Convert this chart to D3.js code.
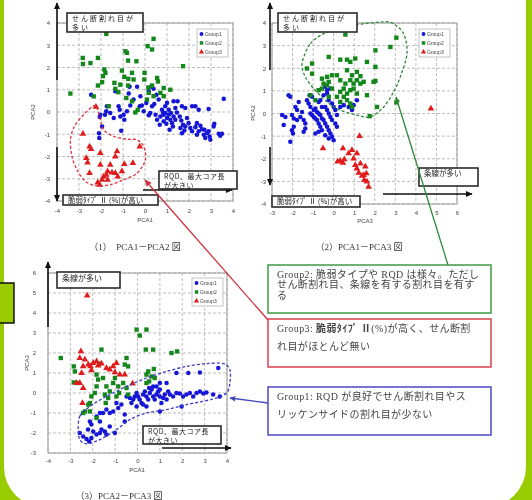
<!DOCTYPE html>
<html>
<head>
<meta charset="utf-8">
<script src="https://cdn.jsdelivr.net/npm/d3@7"></script>
<style>
	body { margin: 0; background: #99cc00; }
	svg { display: block; filter: blur(0.35px); }
</style>
</head>
<body>
<svg id="chart" width="532" height="500"></svg>
<script>
var groupNames = ["Group1", "Group2", "Group3"];
var groupColors = ["#1515d6", "#13871a", "#e01b1b"];
var captions = ["（1）　PCA1－PCA2 図", "（2）PCA1－PCA3 図", "（3）PCA2－PCA3 図"];
var ticksA = [-4, -3, -2, -1, 0, 1, 2, 3, 4];
var ticksB = [-3, -2, -1, 0, 1, 2, 3, 4, 5, 6];

// (1) PCA1 - PCA2
var p1Group1 = [[-2.45,0.78],[-2.03,-0.12],[-2.06,-0.23],[-1.95,-0.65],[-2.09,-0.95],[-2.08,-1.17],[-1.76,0.03],[-1.73,0.26],[-1.82,-0.12],[-1.58,-0.05],[-1.42,-0.27],[-1.35,0.93],[-1.2,0.26],[-1.15,0.1],[-1.12,-0.2],[-0.97,-0.12],[-0.94,-0.35],[-1.08,-0.84],[-0.82,0.03],[-0.7,1.13],[-0.74,0.83],[-0.52,0.56],[-0.67,0.29],[-0.36,1.13],[-0.24,0.26],[-0.14,0.29],[0.06,0.41],[-0.06,0.03],[0.17,-0.15],[0.24,-0.05],[0.32,0.26],[0.42,0.36],[0.27,1.13],[0.39,1.04],[0.17,0.93],[0.52,0.78],[0.62,0.56],[0.48,-0.12],[0.55,-0.35],[0.67,-0.57],[0.77,0.1],[0.85,-0.12],[0.92,-0.05],[1.0,-0.27],[1.08,-0.12],[1.15,-0.35],[1.23,-0.5],[0.85,-0.42],[0.97,-0.53],[1.08,0.1],[1.18,-0.05],[1.3,-0.2],[0.7,-0.2],[0.82,-0.02],[0.92,0.26],[1.0,0.41],[1.38,0.18],[1.45,-0.02],[1.58,-0.2],[1.65,-0.38],[1.73,-0.57],[1.61,-0.72],[1.79,-0.83],[1.83,-0.65],[1.98,-0.5],[1.91,-0.27],[2.06,-0.72],[2.14,-0.87],[2.29,-0.68],[2.36,-0.5],[2.52,-0.62],[2.59,-0.77],[2.7,-0.8],[2.82,-0.95],[2.67,-1.02],[2.89,-0.87],[2.74,-1.17],[2.94,-1.1],[2.97,-1.25],[1.68,0.26],[1.83,0.18],[2.14,0.26],[2.29,0.26],[2.44,0.1],[2.89,0.14],[3.12,-0.65],[3.35,-0.98],[3.42,-1.07],[3.5,-0.98],[3.15,-0.53],[3.58,0.59],[2.44,-0.87],[2.36,-1.02],[1.48,0.48],[1.3,0.48],[1.27,-0.65],[1.12,-0.8],[1.68,-0.95],[1.38,-0.35],[-0.21,0.71]];
var p1Group2 = [[-3.39,0.83],[-2.83,2.43],[-2.82,2.16],[-2.48,2.2],[-2.14,2.43],[-2.14,1.19],[-2.33,0.7],[-1.76,3.51],[-1.85,1.91],[-1.8,1.76],[-1.91,1.61],[-1.95,1.34],[-1.35,1.04],[-1.39,1.31],[-0.89,2.73],[-0.77,2.31],[-1.05,1.86],[-0.94,1.58],[-0.59,1.76],[-0.52,1.46],[-0.76,1.49],[-0.77,1.19],[-1.12,1.23],[-1.21,0.89],[-0.39,2.28],[-0.82,2.66],[-0.85,0.63],[-0.44,-0.02],[0.12,2.96],[0.32,2.81],[0.39,3.29],[-0.02,1.76],[-0.03,1.46],[0.15,1.1],[0.32,1.19],[0.55,1.53],[0.59,1.37],[0.85,1.08],[0.7,0.86],[0.85,0.71],[1.15,1.0],[1.73,2.06],[0.17,0.86],[0.09,0.56],[-1.65,0.26],[-0.59,0.48],[-0.33,0.1],[0.39,0.71]];
var p1Group3 = [[-2.23,0.23],[-2.82,-0.98],[-2.52,-1.55],[-2.45,-1.67],[-2.67,-2.07],[-2.61,-2.27],[-2.03,-1.85],[-2.52,-2.75],[-2.03,-2.37],[-2.15,-3.17],[-2.06,-3.27],[-1.95,-3.05],[-1.76,-2.82],[-1.7,-2.67],[-1.58,-2.37],[-1.35,-2.0],[-1.27,-1.77],[-1.5,-2.72],[-1.35,-2.75],[-1.05,-2.67],[-0.94,-2.34],[-1.24,-2.9],[-1.7,-3.05],[-0.55,-2.3],[-0.24,-1.55],[-1.88,-2.9]];
var p1Outline = [[-2.26,0.29],[-2.79,-0.12],[-3.21,-0.65],[-3.39,-1.25],[-3.32,-2.0],[-3.09,-2.6],[-2.71,-3.12],[-2.18,-3.32],[-1.58,-3.27],[-0.97,-3.05],[-0.36,-2.75],[0.02,-2.15],[-0.06,-1.55],[-0.36,-1.25],[-0.82,-1.22],[-1.42,-1.1],[-1.88,-0.8],[-2.03,-0.35]];

// (2) PCA1 - PCA3
var p2Group1 = [[-2.19,0.81],[-2.11,0.74],[-2.51,-0.07],[-2.35,-0.15],[-2.43,-0.51],[-2.03,-0.07],[-1.94,-0.22],[-1.78,-0.29],[-1.62,-0.15],[-1.94,-0.59],[-2.03,-0.74],[-1.98,-0.88],[-2.11,-1.25],[-1.86,0.29],[-1.78,0.15],[-1.54,0.07],[-1.7,0.51],[-1.46,-0.29],[-1.38,-0.44],[-1.3,0.59],[-1.22,0.44],[-1.13,0.29],[-1.17,0.81],[-1.05,0.74],[-1.13,0.0],[-1.05,-0.07],[-0.97,-0.15],[-0.89,-0.22],[-0.81,-0.29],[-0.73,-0.44],[-0.65,-0.59],[-0.97,0.15],[-0.89,0.22],[-0.81,0.07],[-0.73,0.0],[-0.65,-0.07],[-0.57,-0.22],[-0.49,-0.29],[-0.41,-0.44],[-0.32,-0.59],[-0.24,-0.74],[-0.16,-0.88],[-0.08,-1.03],[0.0,-1.18],[-0.73,0.51],[-0.65,0.59],[-0.57,0.29],[-0.41,0.29],[-0.32,0.15],[-0.24,0.0],[-0.16,-0.15],[-0.08,-0.29],[0.08,-0.44],[0.16,-0.59],[-0.49,0.81],[-0.32,0.88],[-0.24,0.59],[-0.08,0.44],[0.0,0.29],[0.08,0.15],[0.16,-0.07],[-0.41,1.18],[-0.32,1.03],[-0.16,1.1],[-0.89,-0.88],[-0.73,-0.81],[-0.57,-0.74],[-0.41,-0.96],[-0.24,-1.1],[0.32,0.29],[0.49,0.37],[0.73,0.29],[0.89,0.15],[0.97,0.37],[1.13,0.59],[-1.46,-0.81],[-1.38,-0.66]];
var p2Group2 = [[0.57,3.49],[3.05,3.35],[2.76,2.94],[2.03,2.79],[2.03,2.06],[2.03,1.44],[1.94,1.4],[1.62,2.28],[0.81,2.28],[1.05,2.43],[0.65,2.38],[0.32,2.38],[-0.24,2.5],[-1.05,2.21],[-1.3,1.99],[-1.05,1.76],[0.65,1.91],[0.89,1.69],[1.13,1.84],[1.3,1.65],[-0.57,1.54],[-0.32,1.62],[-0.08,1.69],[0.16,1.69],[0.32,1.47],[-0.24,1.4],[-0.49,1.32],[0.57,1.32],[0.81,1.47],[0.97,1.32],[1.13,1.47],[1.3,1.32],[1.46,1.4],[0.81,1.03],[0.97,1.1],[1.13,0.88],[0.65,0.88],[0.49,0.74],[0.32,0.96],[0.49,1.1],[0.65,0.59],[0.81,0.44],[-0.73,1.03],[-0.57,1.1],[-0.32,1.25],[-0.08,1.1],[0.16,0.74],[-0.24,0.74],[-0.89,0.59],[-1.13,0.81],[0.32,0.51],[0.89,0.29],[1.62,0.81],[2.11,0.29],[1.75,-0.12],[3.05,0.49]];
var p2Group3 = [[1.26,-1.0],[-0.52,-1.54],[0.45,-1.54],[0.32,-2.09],[0.45,-2.18],[0.52,-2.03],[0.89,-1.62],[1.13,-1.76],[0.97,-1.99],[1.05,-2.28],[1.13,-2.43],[1.22,-2.62],[1.3,-2.21],[1.54,-2.35],[1.59,-2.65],[1.38,-2.76],[1.49,-2.94],[1.62,-3.01],[1.7,-3.24],[1.46,-2.72],[0.73,-1.76],[0.19,-2.13],[4.73,0.22]];
var p2Outline = [[-1.54,2.21],[-1.13,3.09],[-0.32,3.6],[0.97,3.9],[2.27,4.04],[2.84,4.0],[3.4,3.53],[3.57,2.65],[3.24,1.62],[2.92,0.96],[2.43,0.29],[1.78,-0.15],[1.13,-0.07],[0.32,0.15],[-0.32,0.51],[-0.97,1.1],[-1.38,1.62]];

// (3) PCA2 - PCA3
var p3Group1 = [[-2.58,-2.0],[-2.43,-2.17],[-2.28,-2.3],[-2.16,-2.42],[-2.06,-2.25],[-2.21,-1.83],[-1.98,-1.92],[-2.06,-1.58],[-1.83,-2.08],[-1.68,-2.0],[-1.61,-1.83],[-1.46,-1.92],[-1.39,-2.08],[-1.24,-1.67],[-1.01,-2.0],[-1.68,-1.42],[-2.13,-1.42],[-1.83,-1.17],[-1.54,-1.0],[-1.68,-1.0],[-1.39,-0.83],[-1.24,-1.0],[-1.09,-0.92],[-0.86,-0.75],[-0.94,-0.5],[-0.72,-0.58],[-0.57,-1.42],[-0.57,-1.08],[-0.49,-0.17],[-0.34,-0.25],[-0.27,-0.5],[-0.19,-0.33],[-0.12,-0.17],[-0.04,0.0],[0.03,-0.17],[0.1,-0.33],[0.18,-0.5],[0.25,-0.08],[0.33,0.08],[0.4,-0.17],[0.48,-0.33],[0.55,0.0],[0.63,0.17],[0.7,-0.17],[0.77,-0.33],[0.85,-0.08],[0.92,0.08],[1.0,-0.17],[1.07,-0.5],[1.15,-0.25],[1.22,-0.08],[1.3,-0.33],[0.85,0.33],[1.0,0.17],[1.37,0.08],[1.45,-0.08],[1.59,-0.17],[1.74,0.0],[1.89,-0.03],[2.04,-0.17],[2.19,-0.08],[2.34,0.0],[2.49,-0.17],[2.64,0.0],[2.79,0.08],[2.94,-0.03],[3.08,0.03],[3.38,-0.08],[3.68,-0.17],[1.0,-0.92],[1.97,-0.67],[1.74,1.0],[2.27,1.0],[2.79,1.03],[3.61,1.25],[1.3,0.5],[1.0,0.5],[0.7,0.33],[0.52,0.25],[-0.04,-0.67],[0.25,-0.58],[0.4,-0.67]];
var p3Group2 = [[-3.43,1.75],[-2.85,1.33],[-2.8,1.08],[-2.85,0.53],[-2.65,0.5],[-2.43,-1.0],[-2.35,-0.92],[-1.83,0.33],[-1.91,0.0],[-2.06,-0.17],[-2.13,-0.5],[-2.2,-0.58],[-1.71,1.47],[-1.61,2.17],[-1.83,0.92],[-1.76,0.67],[-1.54,0.75],[-1.39,0.33],[-1.24,0.08],[-1.46,-0.08],[-1.31,-0.25],[-1.42,-0.5],[-1.09,0.5],[-1.01,0.75],[-0.86,0.33],[-0.82,0.0],[-0.94,-0.17],[-0.49,1.75],[-0.57,1.42],[-0.42,1.33],[-0.64,0.5],[-0.49,0.25],[-0.42,-0.08],[-0.04,3.17],[0.1,2.87],[0.4,3.17],[0.37,2.17],[0.7,2.17],[1.52,2.0],[1.77,2.08],[0.48,1.08],[0.4,0.92],[0.63,0.83],[0.73,1.2],[0.77,0.75],[0.4,0.5],[0.52,0.58],[-1.83,-1.25],[-2.13,-0.92]];
var p3Group3 = [[-2.25,4.87],[-2.53,2.08],[-2.58,1.75],[-2.35,1.67],[-2.2,1.42],[-2.1,1.33],[-1.98,1.5],[-1.83,1.58],[-2.06,1.13],[-1.61,1.47],[-1.39,1.25],[-1.24,1.17],[-1.09,1.33],[-0.94,1.5],[-1.01,1.03],[-0.79,0.92],[-0.57,0.92],[-0.22,0.47],[-2.43,1.33],[-2.5,1.0],[-2.73,0.5],[-2.58,0.5],[-2.43,0.25],[-2.46,-0.5],[-1.76,1.37]];
var p3Outline = [[-2.65,-1.83],[-2.58,-1.17],[-2.13,-0.67],[-1.39,-0.17],[-0.49,0.33],[0.4,0.75],[1.3,1.08],[2.19,1.33],[3.08,1.47],[3.83,1.47],[4.13,1.17],[4.13,0.5],[3.98,0.0],[3.38,-0.3],[2.19,-0.58],[1.3,-0.83],[0.4,-1.0],[-0.34,-1.33],[-0.94,-1.83],[-1.68,-2.33],[-2.28,-2.53],[-2.58,-2.33]];

var svg = d3.select("#chart");
var symbols = [d3.symbolCircle, d3.symbolSquare, d3.symbolTriangle];
var symbolSizes = [16, 19, 19];
var jpFont = "'Noto Sans CJK JP', sans-serif";
var serifFont = "'Liberation Serif', 'Noto Sans CJK JP', serif";

// green page frame
svg.append("rect").attr("width", 532).attr("height", 500).attr("fill", "#99cc00");
svg.append("rect").attr("x", 4).attr("y", -60).attr("width", 522).attr("height", 567)
		.attr("rx", 40).attr("fill", "#fff");

var defs = svg.append("defs");
function addMarker(id, color, size) {
	defs.append("marker")
			.attr("id", id)
			.attr("viewBox", "0 -5 10 10")
			.attr("refX", 9).attr("refY", 0)
			.attr("markerWidth", size).attr("markerHeight", size)
			.attr("markerUnits", "userSpaceOnUse")
			.attr("orient", "auto-start-reverse")
		.append("path")
			.attr("d", "M0,-4.5L10,0L0,4.5Z")
			.attr("fill", color);
}
addMarker("arrowBlack", "#111", 7);
addMarker("arrowRed", "#d0303e", 7);
addMarker("arrowGreen", "#2e8a36", 6);
addMarker("arrowBlue", "#4646bc", 6);

// title, mostly cut off by the top edge
svg.append("text")
		.attr("x", 258).attr("y", -3.5)
		.attr("text-anchor", "middle")
		.attr("font-family", jpFont).attr("font-size", 22)
		.attr("fill", "#111")
		.text("多変量解析を用いた割れ目の分類結果");

function labelBox(g, b) {
	g.append("rect")
			.attr("x", b.x).attr("y", b.y).attr("width", b.w).attr("height", b.h)
			.attr("fill", "#fff").attr("stroke", "#2a2a2a").attr("stroke-width", 1.6);
	var t = g.append("text")
			.attr("y", b.y + b.size + 0.8)
			.attr("font-family", jpFont).attr("font-size", b.size)
			.attr("letter-spacing", b.ls || 0)
			.attr("fill", "#222");
	b.lines.forEach(function(s, i) {
		t.append("tspan")
				.attr("x", b.x + 5)
				.attr("dy", i ? b.size + 2 : 0)
				.text(s);
	});
}

function drawPanel(p) {
	var g = svg.append("g").attr("class", "panel");
	var x = d3.scaleLinear().domain(p.xDomain).range([p.box[0], p.box[1]]);
	var y = d3.scaleLinear().domain(p.yDomain).range([p.box[3], p.box[2]]);

	// dashed grid
	g.append("g").selectAll("line").data(p.xTicks).enter().append("line")
			.attr("x1", x).attr("x2", x)
			.attr("y1", p.box[2]).attr("y2", p.box[3])
			.attr("stroke", "#a0a0a0").attr("stroke-width", 0.7).attr("stroke-dasharray", "3,2");
	g.append("g").selectAll("line").data(p.yTicks).enter().append("line")
			.attr("y1", y).attr("y2", y)
			.attr("x1", p.box[0]).attr("x2", p.box[1])
			.attr("stroke", "#a0a0a0").attr("stroke-width", 0.7).attr("stroke-dasharray", "3,2");
	g.append("rect")
			.attr("x", p.box[0]).attr("y", p.box[2])
			.attr("width", p.box[1] - p.box[0]).attr("height", p.box[3] - p.box[2])
			.attr("fill", "none").attr("stroke", "#9a9a9a").attr("stroke-width", 1);

	// axes
	var xAxis = g.append("g")
			.attr("transform", "translate(0," + p.box[3] + ")")
			.call(d3.axisBottom(x).tickValues(p.xTicks).tickSize(0).tickPadding(p.xPad).tickFormat(String));
	var yAxis = g.append("g")
			.attr("transform", "translate(" + p.box[0] + ",0)")
			.call(d3.axisLeft(y).tickValues(p.yTicks).tickSize(0).tickPadding(p.yPad).tickFormat(String));
	[xAxis, yAxis].forEach(function(a) {
		a.select(".domain").remove();
		a.attr("font-family", "'Liberation Sans', sans-serif").attr("font-size", 6);
		a.selectAll("text").attr("fill", "#444");
	});

	g.append("text")
			.attr("x", p.xTitle[0]).attr("y", p.xTitle[1])
			.attr("text-anchor", "middle")
			.attr("font-family", "'Liberation Sans', sans-serif").attr("font-size", 6).attr("fill", "#444")
			.text(p.xLabel);
	g.append("text")
			.attr("transform", "translate(" + p.yTitle[0] + "," + p.yTitle[1] + ") rotate(-90)")
			.attr("text-anchor", "middle")
			.attr("font-family", "'Liberation Sans', sans-serif").attr("font-size", 6).attr("fill", "#444")
			.text(p.yLabel);

	// points
	p.groups.forEach(function(pts, i) {
		g.append("g").selectAll("path").data(pts).enter().append("path")
				.attr("transform", function(d) { return "translate(" + x(d[0]) + "," + y(d[1]) + ")"; })
				.attr("d", d3.symbol().type(symbols[i]).size(symbolSizes[i]))
				.attr("fill", groupColors[i]);
	});

	// dashed group outline
	var line = d3.line()
			.x(function(d) { return x(d[0]); })
			.y(function(d) { return y(d[1]); })
			.curve(d3.curveCardinalClosed.tension(0.1));
	g.append("path")
			.attr("d", line(p.outline))
			.attr("fill", "none").attr("stroke", p.outlineColor)
			.attr("stroke-width", 1.3).attr("stroke-dasharray", "3,2");

	// legend
	var lg = g.append("g").attr("transform", "translate(" + p.legend[0] + "," + p.legend[1] + ")");
	lg.append("rect")
			.attr("width", 31).attr("height", 28)
			.attr("fill", "#fff").attr("stroke", "#b5b5b5").attr("stroke-width", 0.8);
	groupNames.forEach(function(name, i) {
		lg.append("path")
				.attr("transform", "translate(4.5," + (5 + i * 9) + ")")
				.attr("d", d3.symbol().type(symbols[i]).size(12))
				.attr("fill", groupColors[i]);
		lg.append("text")
				.attr("x", 8).attr("y", 5 + i * 9).attr("dy", "0.35em")
				.attr("font-family", "'Liberation Sans', sans-serif").attr("font-size", 5).attr("fill", "#444")
				.text(name);
	});

	// direction arrows and their labels
	p.arrows.forEach(function(a) {
		g.append("line")
				.attr("x1", a[0]).attr("y1", a[1]).attr("x2", a[2]).attr("y2", a[3])
				.attr("stroke", "#111").attr("stroke-width", 1.6)
				.attr("marker-end", "url(#arrowBlack)");
	});
	p.boxes.forEach(function(b) { labelBox(g, b); });

	g.append("text")
			.attr("x", p.caption[0]).attr("y", p.caption[1])
			.attr("text-anchor", "middle")
			.attr("font-family", serifFont).attr("font-size", 9).attr("fill", "#333")
			.text(p.captionText);
}

drawPanel({
	xDomain: [-4, 4], yDomain: [-4, 4], xTicks: ticksA, yTicks: ticksA,
	box: [57, 233, 23, 201], xPad: 8, yPad: 7,
	xLabel: "PCA1", yLabel: "PCA2", xTitle: [145, 222], yTitle: [35, 112],
	groups: [p1Group1, p1Group2, p1Group3],
	outline: p1Outline, outlineColor: "#e0333f",
	legend: [197, 29],
	arrows: [[57, 80, 57, 3], [57, 147, 57, 201], [143, 190, 232, 190]],
	boxes: [
		{x: 67, y: 13, w: 76, h: 19, size: 7, ls: 2, lines: ["せん断割れ目が", "多い"]},
		{x: 159, y: 171, w: 78, h: 18, size: 7, ls: 0.5, lines: ["RQD、最大コア長", "が大きい"]},
		{x: 63, y: 195, w: 95, h: 10, size: 7.5, lines: ["脆弱ﾀｲﾌﾟ Ⅱ (%)が高い"]}
	],
	caption: [135, 250], captionText: captions[0]
});

drawPanel({
	xDomain: [-3, 6], yDomain: [-4, 4], xTicks: ticksB, yTicks: ticksA,
	box: [272, 457, 23, 204], xPad: 7, yPad: 6,
	xLabel: "PCA3", yLabel: "PCA2", xTitle: [365, 223], yTitle: [255, 113],
	groups: [p2Group1, p2Group2, p2Group3],
	outline: p2Outline, outlineColor: "#2e8a36",
	legend: [419, 29],
	arrows: [[270, 70, 270, 3], [270, 147, 270, 185], [383, 194, 472, 194]],
	boxes: [
		{x: 278, y: 13, w: 79, h: 19, size: 7, ls: 2, lines: ["せん断割れ目が", "多い"]},
		{x: 419, y: 168, w: 59, h: 18, size: 7.5, lines: ["条線が多い"]},
		{x: 272, y: 196, w: 88, h: 11, size: 7.5, lines: ["脆弱ﾀｲﾌﾟ Ⅱ (%)が高い"]}
	],
	caption: [359, 250], captionText: captions[1]
});

drawPanel({
	xDomain: [-4, 4], yDomain: [-3, 6], xTicks: ticksA, yTicks: ticksB,
	box: [48, 227, 273, 453], xPad: 6, yPad: 12,
	xLabel: "PCA1", yLabel: "PCA3", xTitle: [137, 472], yTitle: [29, 363],
	groups: [p3Group1, p3Group2, p3Group3],
	outline: p3Outline, outlineColor: "#3b3bc4",
	legend: [192, 278],
	arrows: [[48, 327, 48, 262], [162, 448, 231, 448]],
	boxes: [
		{x: 57, y: 272, w: 63, h: 16, size: 8, lines: ["条線が多い"]},
		{x: 143, y: 426, w: 78, h: 18, size: 7, ls: 0.5, lines: ["RQD、最大コア長", "が大きい"]}
	],
	caption: [119, 499], captionText: captions[2]
});

// call-out lines to the group notes
var callouts = [
	{from: [145, 180], to: [268, 320], color: "#d0303e", marker: "arrowRed"},
	{from: [396, 97], to: [448, 265], color: "#2e8a36", marker: "arrowGreen"},
	{from: [230, 398], to: [268, 403], color: "#4646bc", marker: "arrowBlue"}
];
callouts.forEach(function(c) {
	svg.append("line")
			.attr("x1", c.from[0]).attr("y1", c.from[1]).attr("x2", c.to[0]).attr("y2", c.to[1])
			.attr("stroke", c.color).attr("stroke-width", 1.3)
			.attr("marker-start", "url(#" + c.marker + ")");
});

var notes = [
	{y: 265, h: 48, color: "#3f9a47", lines: [["Group2: 脆弱タイプや RQD は様々。ただし"], ["せん断割れ目、条線を有する割れ目を有す"], ["る"]], step: 10.5},
	{y: 319, h: 48, color: "#d8404c", lines: [["Group3: ", "脆弱ﾀｲﾌﾟ Ⅱ", "(%)が高く、せん断割"], ["れ目がほとんど無い"]], step: 18},
	{y: 387, h: 48, color: "#4a4ac4", lines: [["Group1: RQD が良好でせん断割れ目やス"], ["リッケンサイドの割れ目が少ない"]], step: 18}
];
notes.forEach(function(n) {
	svg.append("rect")
			.attr("x", 268).attr("y", n.y).attr("width", 223).attr("height", n.h)
			.attr("fill", "#fff").attr("stroke", n.color).attr("stroke-width", 1.5);
	var t = svg.append("text")
			.attr("y", n.y + 12.5)
			.attr("font-family", serifFont).attr("font-size", 10)
			.attr("letter-spacing", 0.4)
			.attr("fill", "#444");
	n.lines.forEach(function(parts, i) {
		parts.forEach(function(s, k) {
			var ts = t.append("tspan").attr("font-weight", k === 1 ? "bold" : "normal").text(s);
			if (k === 0) ts.attr("x", 277).attr("dy", i ? n.step : 0);
		});
	});
});

// side tab on the left edge
svg.append("rect")
		.attr("x", -2).attr("y", 283).attr("width", 16).attr("height", 40)
		.attr("fill", "#99cc00").attr("stroke", "#111").attr("stroke-width", 1.5);
</script>
</body>
</html>
